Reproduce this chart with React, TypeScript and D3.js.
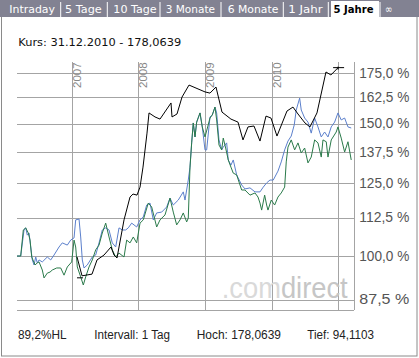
import React from "react";
import * as d3 from "d3";

// ---------- DATA ----------
const tabLabels = ["Intraday", "5 Tage", "10 Tage", "3 Monate", "6 Monate", "1 Jahr", "5 Jahre", "∞"];
const activeTab = "5 Jahre";
const headerText = "Kurs: 31.12.2010 - 178,0639";
const footerTexts = ["89,2%HL", "Intervall: 1 Tag", "Hoch: 178,0639", "Tief: 94,1103"];

const yTicks = [87.5, 100, 112.5, 125, 137.5, 150, 162.5, 175];
const yearTicks = [2007, 2008, 2009, 2010, 2011];
const yearLabels = ["2007", "2008", "2009", "2010"];

// black (main) series: decimal year / percent
const mainDates = [2007.080, 2007.155, 2007.305, 2007.380, 2007.485, 2007.590, 2007.635, 2007.680, 2007.785, 2007.875,
  2007.920, 2007.980, 2008.025, 2008.070, 2008.130, 2008.160, 2008.250, 2008.325, 2008.490, 2008.505,
  2008.580, 2008.655, 2008.760, 2009.000, 2009.075, 2009.165, 2009.255, 2009.389, 2009.495, 2009.570,
  2009.645, 2009.735, 2009.825, 2009.915, 2009.990, 2010.080, 2010.230, 2010.320, 2010.395, 2010.500,
  2010.575, 2010.680, 2010.815, 2010.889, 2010.997];
const mainValues = [99.7, 94.11, 94.6, 98.8, 100.3, 102.8, 100.3, 99.4, 111.7, 119.8,
  120.9, 120.5, 123.5, 131.3, 145.7, 155.0, 153.1, 152.1, 159.8, 153.1,
  154.5, 162.7, 168.8, 165.3, 164.7, 167.8, 155.4, 152.1, 150.7, 142.7,
  148.5, 148.9, 142.2, 153.5, 152.6, 144.4, 155.9, 157.8, 154.5, 150.3,
  148.5, 155.0, 175.7, 174.1, 178.06];

// blue comparison series
const blueDates = [2006.180, 2006.235, 2006.285, 2006.310, 2006.334, 2006.360, 2006.385, 2006.409, 2006.435, 2006.460,
  2006.484, 2006.510, 2006.559, 2006.634, 2006.685, 2006.735, 2006.810, 2006.859, 2006.934, 2006.985,
  2007.035, 2007.060, 2007.110, 2007.135, 2007.159, 2007.185, 2007.234, 2007.309, 2007.360, 2007.410,
  2007.459, 2007.510, 2007.560, 2007.609, 2007.660, 2007.710, 2007.759, 2007.810, 2007.849, 2007.900,
  2007.975, 2008.025, 2008.074, 2008.125, 2008.175, 2008.224, 2008.275, 2008.350, 2008.425, 2008.475,
  2008.524, 2008.599, 2008.674, 2008.700, 2008.749, 2008.775, 2008.800, 2008.824, 2008.850, 2008.875,
  2008.925, 2008.959, 2009.000, 2009.025, 2009.075, 2009.109, 2009.150, 2009.175, 2009.210, 2009.250,
  2009.274, 2009.325, 2009.349, 2009.389, 2009.424, 2009.475, 2009.550, 2009.600, 2009.675, 2009.750,
  2009.825, 2009.874, 2009.925, 2009.975, 2010.024, 2010.095, 2010.144, 2010.195, 2010.245, 2010.294,
  2010.339, 2010.369, 2010.420, 2010.444, 2010.495, 2010.545, 2010.594, 2010.645, 2010.695, 2010.744,
  2010.795, 2010.845, 2010.894, 2010.945, 2010.995, 2011.044, 2011.095, 2011.145, 2011.194];
const blueValues = [100.0, 100.0, 108.3, 109.0, 106.6, 107.3, 102.8, 98.8, 97.3, 99.7,
  97.9, 98.8, 98.2, 99.7, 98.8, 100.3, 102.8, 104.1, 103.4, 105.0,
  105.7, 111.7, 112.0, 106.0, 98.8, 96.4, 97.3, 99.7, 100.3, 104.1,
  108.3, 109.0, 108.3, 104.1, 102.8, 109.0, 108.3, 108.3, 109.0, 110.6,
  109.3, 111.7, 112.7, 116.9, 117.6, 111.7, 114.1, 114.4, 116.2, 119.4,
  116.9, 118.7, 121.7, 118.7, 126.2, 131.3, 141.4, 150.3, 144.0, 150.7,
  155.0, 148.5, 138.4, 138.4, 153.1, 154.0, 157.8, 155.0, 142.7, 138.4,
  139.6, 141.4, 134.2, 132.1, 134.2, 128.2, 124.3, 122.8, 123.2, 121.7,
  121.7, 123.5, 125.1, 126.2, 126.2, 129.7, 133.4, 138.4, 142.2, 144.4,
  149.4, 156.4, 162.2, 156.4, 152.6, 150.7, 145.7, 152.6, 148.5, 144.0,
  146.2, 144.0, 148.5, 150.7, 155.0, 151.7, 152.6, 148.5, 148.0];

// green comparison series
const greenDates = [2006.180, 2006.235, 2006.274, 2006.310, 2006.349, 2006.375, 2006.400, 2006.450, 2006.484, 2006.510,
  2006.559, 2006.585, 2006.634, 2006.675, 2006.709, 2006.775, 2006.835, 2006.885, 2006.934, 2007.000,
  2007.035, 2007.060, 2007.084, 2007.135, 2007.174, 2007.210, 2007.260, 2007.309, 2007.360, 2007.410,
  2007.459, 2007.510, 2007.560, 2007.609, 2007.660, 2007.710, 2007.785, 2007.825, 2007.875, 2007.924,
  2007.975, 2008.025, 2008.074, 2008.149, 2008.200, 2008.275, 2008.325, 2008.400, 2008.475, 2008.524,
  2008.575, 2008.625, 2008.674, 2008.725, 2008.749, 2008.775, 2008.800, 2008.824, 2008.850, 2008.875,
  2008.925, 2008.959, 2009.000, 2009.040, 2009.075, 2009.109, 2009.150, 2009.175, 2009.210, 2009.250,
  2009.274, 2009.310, 2009.349, 2009.389, 2009.424, 2009.475, 2009.550, 2009.600, 2009.675, 2009.750,
  2009.795, 2009.825, 2009.850, 2009.895, 2009.925, 2009.945, 2009.994, 2010.045, 2010.095, 2010.144,
  2010.195, 2010.219, 2010.245, 2010.294, 2010.345, 2010.395, 2010.444, 2010.495, 2010.545, 2010.594,
  2010.645, 2010.695, 2010.744, 2010.770, 2010.819, 2010.845, 2010.894, 2010.969, 2010.995, 2011.044,
  2011.095, 2011.145, 2011.194];
const greenValues = [100.0, 100.0, 108.3, 109.0, 107.3, 105.0, 99.7, 97.3, 97.9, 98.2,
  95.8, 93.5, 94.9, 95.2, 95.8, 96.4, 96.4, 94.3, 96.7, 98.2,
  105.0, 102.8, 96.7, 93.8, 91.5, 93.8, 96.7, 98.8, 101.9, 103.4,
  107.3, 110.6, 106.0, 101.9, 99.7, 100.9, 99.7, 105.0, 104.1, 106.0,
  104.1, 110.6, 111.7, 117.6, 116.2, 109.3, 111.7, 113.4, 119.4, 114.4,
  110.0, 111.7, 114.1, 111.0, 112.3, 131.3, 141.4, 150.3, 144.0, 150.7,
  155.0, 148.5, 144.0, 148.5, 152.6, 154.0, 157.8, 151.7, 140.5, 138.4,
  143.5, 139.2, 134.2, 131.3, 128.9, 128.2, 122.4, 122.4, 120.5, 121.3,
  119.8, 117.6, 115.1, 120.5, 116.9, 115.1, 118.7, 116.9, 119.8, 121.3,
  123.5, 133.4, 139.6, 142.7, 138.4, 141.4, 137.1, 139.2, 133.0, 135.4,
  142.7, 141.4, 135.4, 142.7, 141.9, 135.4, 142.7, 146.2, 148.5, 143.5,
  137.5, 141.9, 134.2];

// ---------- LAYOUT ----------
const W = 419;
const H = 358;
const plot = { left: 17, right: 354, top: 62, bottom: 310 };
const tabLayout = [
  { x: 9.3, w: 45.7, sep: 60.7 },
  { x: 65, w: 36.7, sep: 107.3 },
  { x: 113.3, w: 43.4, sep: 160 },
  { x: 165.7, w: 49.3, sep: 221 },
  { x: 227.7, w: 50.6, sep: 283.3 },
  { x: 288.3, w: 34.4, sep: 328.3 },
  { x: 333.5, w: 40, sep: 380 },
  { x: 385, w: 7.5, sep: -1 },
];
const footerLayout = [
  { x: 18, w: 48.5 },
  { x: 94.3, w: 75.7 },
  { x: 196.7, w: 84.3 },
  { x: 307.3, w: 66.7 },
];

const sansV = "'DejaVu Sans', Verdana, sans-serif";
const sansA = "'Liberation Sans', Arial, sans-serif";

export default function App() {
  const x = d3.scaleLinear().domain([2007, 2011]).range([71.7, 338.3]);
  const y = d3.scaleLog().domain([87.5, 175]).range([299.6, 73.3]);

  const mk = (dates: number[], vals: number[]) =>
    d3.line<number>().x((_, i) => x(dates[i])).y((v) => y(v))(vals) || "";

  const bluePath = mk(blueDates, blueValues);
  const greenPath = mk(greenDates, greenValues);
  const mainPath = mk(mainDates, mainValues);

  const maxI = d3.maxIndex(mainValues);
  const minI = d3.minIndex(mainValues);
  const fmt = (v: number) => v.toFixed(1).replace(".", ",") + " %";

  return (
    <div style={{ position: "fixed", left: 0, top: 0, width: W, height: H }}>
      <svg width={W} height={H} style={{ display: "block", background: "#fff" }}>
        {/* outer frame */}
        <rect x={1.5} y={0.5} width={415.5} height={355.5} fill="#fff" stroke="#8a8a8a" strokeWidth={1} />
        {/* tab bar */}
        <rect x={0} y={0} width={W} height={17} fill="#828292" />
        {tabLabels.map((t, i) => {
          const L = tabLayout[i];
          const active = t === activeTab;
          return (
            <g key={t}>
              {active && <rect x={331} y={1} width={48} height={17} fill="#fff" />}
              {L.sep > 0 && !active && (
                <line x1={L.sep} x2={L.sep} y1={2} y2={17} stroke="#fff" strokeWidth={1} />
              )}
              <text
                x={L.x}
                y={12.5}
                fontFamily={sansV}
                fontSize={11}
                fontWeight={active ? "bold" : "normal"}
                fill={active ? "#000" : "#fff"}
                textLength={L.w}
                lengthAdjust="spacingAndGlyphs"
              >
                {t}
              </text>
            </g>
          );
        })}
        <line x1={380} x2={380} y1={2} y2={17} stroke="#fff" />

        {/* header */}
        <text x={18.3} y={45.5} fontFamily={sansV} fontSize={11} fill="#111" textLength={163} lengthAdjust="spacingAndGlyphs">
          {headerText}
        </text>

        {/* gridlines */}
        <g stroke="#a4a4a4" strokeWidth={1} shapeRendering="crispEdges">
          {yTicks.map((t) => (
            <line key={t} x1={plot.left} x2={plot.right} y1={Math.round(y(t)) + 0.5} y2={Math.round(y(t)) + 0.5} />
          ))}
          {yearTicks.map((t) => (
            <line key={t} x1={Math.round(x(t)) + 0.5} x2={Math.round(x(t)) + 0.5} y1={plot.top} y2={plot.bottom} />
          ))}
          <line x1={plot.right + 0.5} x2={plot.right + 0.5} y1={plot.top} y2={plot.bottom} />
          <line x1={plot.left} x2={plot.right} y1={plot.bottom + 0.5} y2={plot.bottom + 0.5} />
        </g>

        {/* year labels */}
        {yearLabels.map((l) => (
          <text
            key={l}
            transform={`translate(${x(+l) + 9},${plot.top + 26}) rotate(-90)`}
            fontFamily={sansA}
            fontSize={11.5}
            fill="#888"
          >
            {l}
          </text>
        ))}

        {/* y labels */}
        {yTicks.map((t) => (
          <text key={t} x={359.3} y={y(t) + 4.5} fontFamily={sansA} fontSize={14} fill="#555" textLength={50} lengthAdjust="spacingAndGlyphs">
            {fmt(t)}
          </text>
        ))}

        {/* watermark */}
        <text x={221.7} y={297.5} fontFamily={sansA} fontSize={30} textLength={126} lengthAdjust="spacingAndGlyphs">
          <tspan fill="#d9d9d9">.com</tspan>
          <tspan fill="#c6c6c6">direct</tspan>
        </text>

        {/* series */}
        <path d={bluePath} fill="none" stroke="#5b7fcc" strokeWidth={1} />
        <path d={greenPath} fill="none" stroke="#2a7a4a" strokeWidth={1} />
        <path d={mainPath} fill="none" stroke="#000" strokeWidth={1} />
        {/* extreme markers */}
        <line x1={x(mainDates[maxI]) - 5} x2={x(mainDates[maxI]) + 6} y1={y(mainValues[maxI])} y2={y(mainValues[maxI])} stroke="#000" />
        <line x1={x(mainDates[maxI])} x2={x(mainDates[maxI])} y1={y(mainValues[maxI]) - 1} y2={y(mainValues[maxI]) + 2} stroke="#000" />
        <line x1={x(mainDates[minI]) - 5} x2={x(mainDates[minI]) + 1} y1={y(mainValues[minI]) + 2} y2={y(mainValues[minI]) + 2} stroke="#000" />

        {/* footer */}
        {footerTexts.map((t, i) => (
          <text key={t} x={footerLayout[i].x} y={339} fontFamily={sansA} fontSize={12} fill="#222" textLength={footerLayout[i].w} lengthAdjust="spacingAndGlyphs">
            {t}
          </text>
        ))}
      </svg>
    </div>
  );
}
